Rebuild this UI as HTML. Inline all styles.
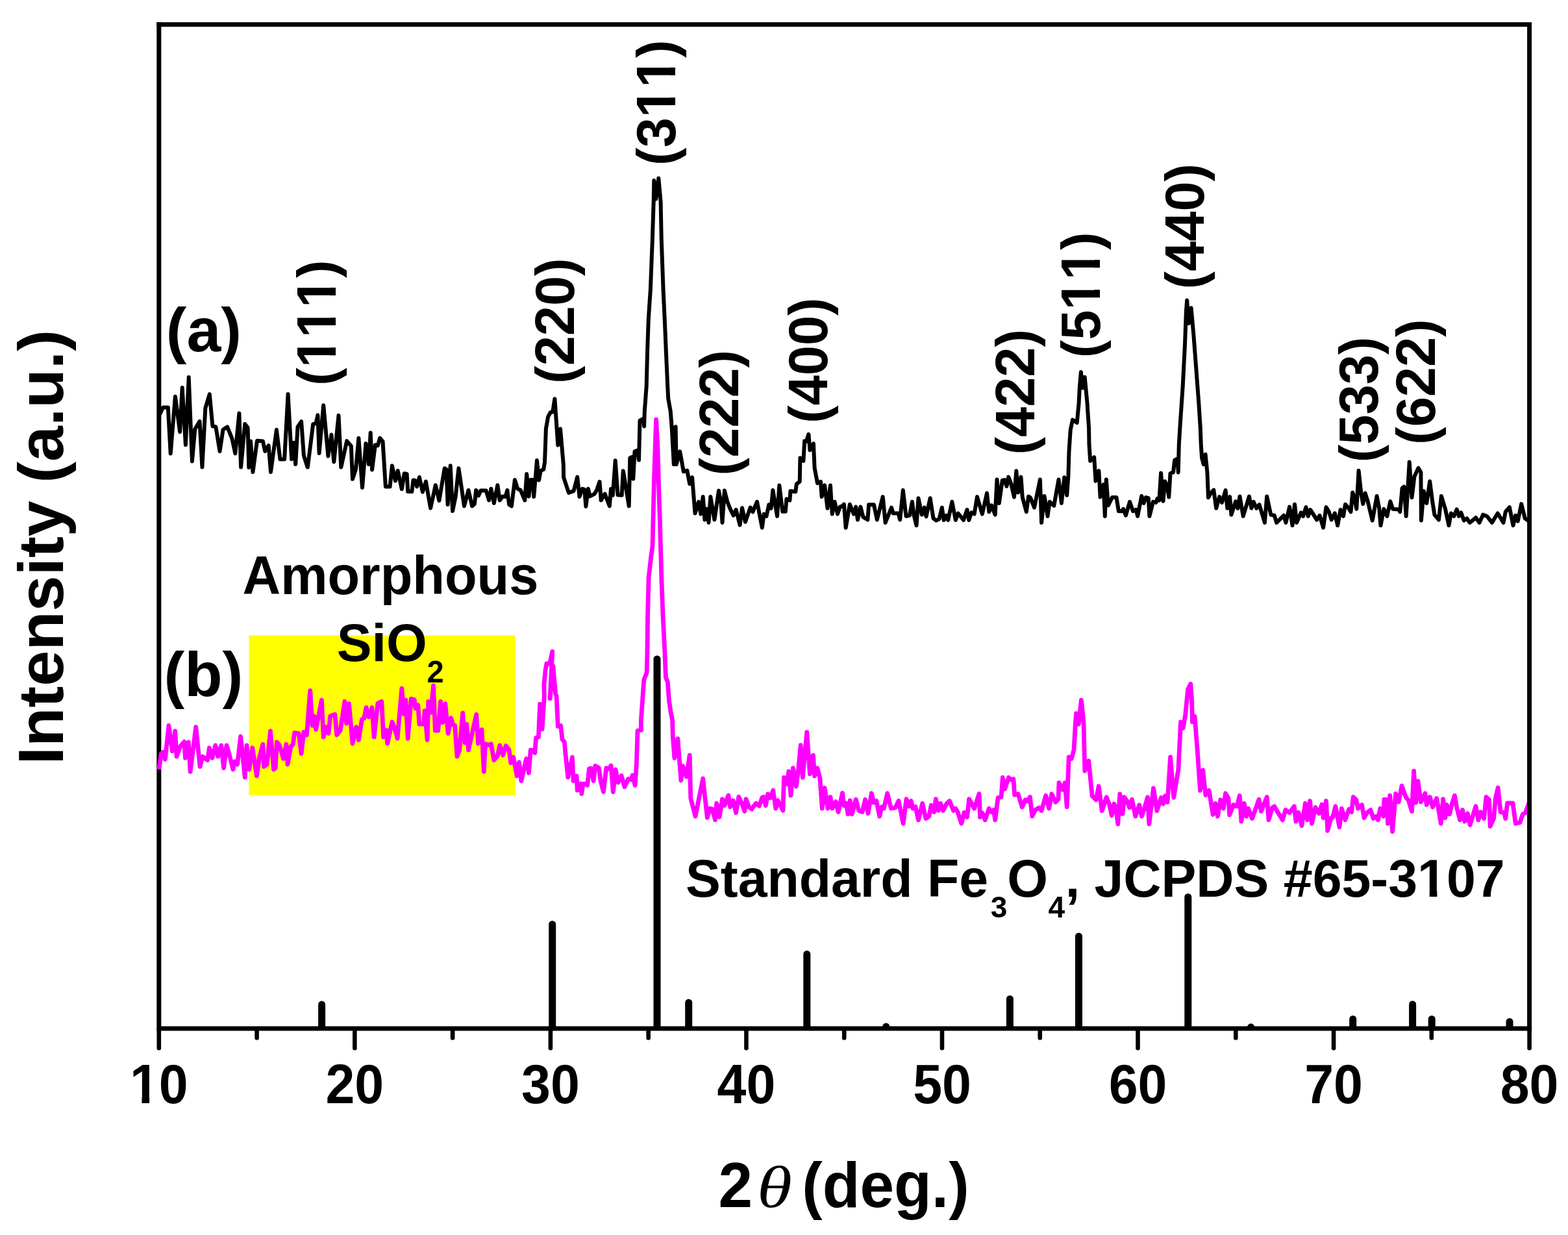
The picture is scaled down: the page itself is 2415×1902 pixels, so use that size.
<!DOCTYPE html>
<html lang="en"><head><meta charset="utf-8"><title>XRD patterns</title>
<style>
html,body{margin:0;padding:0;background:#fff;}
body{width:2415px;height:1902px;overflow:hidden;}
svg{display:block;}
text{font-family:"Liberation Sans", Arial, Helvetica, sans-serif;font-weight:bold;fill:#000;font-kerning:none;font-variant-ligatures:none;}
.th{font-family:"Liberation Serif","DejaVu Serif",serif;font-style:italic;font-weight:normal;}
</style></head><body>
<svg xmlns="http://www.w3.org/2000/svg" width="2415" height="1902" viewBox="0 0 2415 1902">
<rect x="0" y="0" width="2415" height="1902" fill="#fff"/>
<rect x="383.4" y="978.5" width="410.1" height="246.1" fill="#ffff00"/>
<defs><clipPath id="c1"><path clip-rule="evenodd" d="M-900,-400H2400V400H-900Z M-42.87,-9.57H-27.57V2H-42.87Z M-15.38,-9.57H-1.11V2H-15.38Z"/></clipPath><clipPath id="c2"><path clip-rule="evenodd" d="M-900,-400H2400V400H-900Z M4.20,-9.74H19.77V2H4.20Z M32.17,-9.74H46.70V2H32.17Z M52.03,-9.74H67.60V2H52.03Z M80.00,-9.74H94.52V2H80.00Z M99.86,-9.74H115.43V2H99.86Z M127.83,-9.74H142.35V2H127.83Z"/></clipPath><clipPath id="c3"><path clip-rule="evenodd" d="M-900,-400H2400V400H-900Z M52.03,-9.74H67.60V2H52.03Z M80.00,-9.74H94.52V2H80.00Z M99.86,-9.74H115.43V2H99.86Z M127.83,-9.74H142.35V2H127.83Z"/></clipPath><clipPath id="c4"><path clip-rule="evenodd" d="M-900,-400H2400V400H-900Z M52.03,-9.74H67.60V2H52.03Z M80.00,-9.74H94.52V2H80.00Z M99.86,-9.74H115.43V2H99.86Z M127.83,-9.74H142.35V2H127.83Z"/></clipPath><clipPath id="c5"><path clip-rule="evenodd" d="M-900,-400H2400V400H-900Z M1154.22,-9.32H1169.11V2H1154.22Z M1181.01,-9.32H1194.89V2H1181.01Z"/></clipPath></defs>
<g transform="translate(244.8,1699.4) scale(0.955,1)" clip-path="url(#c1)"><text font-size="84.5" text-anchor="middle">10</text></g>
<g transform="translate(546.3,1699.4) scale(0.955,1)"><text font-size="84.5" text-anchor="middle">20</text></g>
<g transform="translate(847.9,1699.4) scale(0.955,1)"><text font-size="84.5" text-anchor="middle">30</text></g>
<g transform="translate(1149.4,1699.4) scale(0.955,1)"><text font-size="84.5" text-anchor="middle">40</text></g>
<g transform="translate(1451.0,1699.4) scale(0.955,1)"><text font-size="84.5" text-anchor="middle">50</text></g>
<g transform="translate(1752.5,1699.4) scale(0.955,1)"><text font-size="84.5" text-anchor="middle">60</text></g>
<g transform="translate(2054.1,1699.4) scale(0.955,1)"><text font-size="84.5" text-anchor="middle">70</text></g>
<g transform="translate(2355.6,1699.4) scale(0.955,1)"><text font-size="84.5" text-anchor="middle">80</text></g>
<g transform="translate(1106.6,1858.8) scale(0.9556,1)"><text font-size="99">2</text></g>
<g transform="translate(1165.9,1858.8) scale(1.2,1)"><text class="th" font-size="91.4">θ</text></g>
<g transform="translate(1235.2,1858.8) scale(0.9556,1)"><text font-size="99">(deg.)</text></g>
<g transform="translate(97.4,1177.5) rotate(-90)"><text font-size="98.8">Intensity (a.u.)</text></g>
<g transform="translate(517.2,594) rotate(-90)"><text font-size="83">(</text><g transform="translate(27.64,0) scale(0.9651,1)" clip-path="url(#c2)"><text font-size="86">111</text></g><text x="166.12" font-size="83">)</text></g>
<g transform="translate(883.5,591) rotate(-90)"><text font-size="83">(</text><g transform="translate(27.64,0) scale(0.9651,1)"><text font-size="86">220</text></g><text x="166.12" font-size="83">)</text></g>
<g transform="translate(1040,255) rotate(-90)"><text font-size="83">(</text><g transform="translate(27.64,0) scale(0.9651,1)" clip-path="url(#c3)"><text font-size="86">311</text></g><text x="166.12" font-size="83">)</text></g>
<g transform="translate(1137.2,732.5) rotate(-90)"><text font-size="83">(</text><g transform="translate(27.64,0) scale(0.9651,1)"><text font-size="86">222</text></g><text x="166.12" font-size="83">)</text></g>
<g transform="translate(1273.9,652) rotate(-90)"><text font-size="83">(</text><g transform="translate(27.64,0) scale(0.9651,1)"><text font-size="86">400</text></g><text x="166.12" font-size="83">)</text></g>
<g transform="translate(1593,700.6) rotate(-90)"><text font-size="83">(</text><g transform="translate(27.64,0) scale(0.9651,1)"><text font-size="86">422</text></g><text x="166.12" font-size="83">)</text></g>
<g transform="translate(1694.1,551.2) rotate(-90)"><text font-size="83">(</text><g transform="translate(27.64,0) scale(0.9651,1)" clip-path="url(#c4)"><text font-size="86">511</text></g><text x="166.12" font-size="83">)</text></g>
<g transform="translate(1853.9,445.5) rotate(-90)"><text font-size="83">(</text><g transform="translate(27.64,0) scale(0.9651,1)"><text font-size="86">440</text></g><text x="166.12" font-size="83">)</text></g>
<g transform="translate(2121.8,712.3) rotate(-90)"><text font-size="83">(</text><g transform="translate(27.64,0) scale(0.9651,1)"><text font-size="86">533</text></g><text x="166.12" font-size="83">)</text></g>
<g transform="translate(2209.8,685) rotate(-90)"><text font-size="83">(</text><g transform="translate(27.64,0) scale(0.9651,1)"><text font-size="86">622</text></g><text x="166.12" font-size="83">)</text></g>
<g transform="translate(255.8,540.9)"><text font-size="95">(a)</text></g>
<g transform="translate(252.4,1071.7)"><text font-size="95.5">(b)</text></g>
<g transform="translate(373.5,915.3) scale(0.985,1)"><text font-size="82.5">Amorphous</text></g>
<g transform="translate(518.7,1017.8) scale(0.98,1)"><text font-size="82.3">SiO<tspan font-size="48" dy="33.4" dx="0">2</tspan></text></g>
<g transform="translate(1056.0,1380.5) scale(0.98,1)" clip-path="url(#c5)"><text font-size="82.3">Standard Fe<tspan font-size="47" dy="32" dx="3.9">3</tspan><tspan dy="-32" dx="-0.1">O</tspan><tspan font-size="47" dy="32" dx="0.4">4</tspan><tspan dy="-32" dx="0.6">, JCPDS #65-3</tspan>107</text></g>
<path d="M490.10,1584.0V1547.1A5.5,5.5 0 0 1 501.10,1547.1V1584.0Z" fill="#000"/>
<path d="M845.20,1584.0V1423.5A5.5,5.5 0 0 1 856.20,1423.5V1584.0Z" fill="#000"/>
<path d="M1006.50,1584.0V1015.0A5.5,5.5 0 0 1 1017.50,1015.0V1584.0Z" fill="#000"/>
<path d="M1055.20,1584.0V1544.1A5.5,5.5 0 0 1 1066.20,1544.1V1584.0Z" fill="#000"/>
<path d="M1237.30,1584.0V1469.5A5.5,5.5 0 0 1 1248.30,1469.5V1584.0Z" fill="#000"/>
<path d="M1359.20,1584.0V1581.0A5.5,5.5 0 0 1 1370.20,1581.0V1584.0Z" fill="#000"/>
<path d="M1549.90,1584.0V1538.5A5.5,5.5 0 0 1 1560.90,1538.5V1584.0Z" fill="#000"/>
<path d="M1656.00,1584.0V1441.9A5.5,5.5 0 0 1 1667.00,1441.9V1584.0Z" fill="#000"/>
<path d="M1824.30,1584.0V1381.5A5.5,5.5 0 0 1 1835.30,1381.5V1584.0Z" fill="#000"/>
<path d="M1921.10,1584.0V1581.8A5.5,5.5 0 0 1 1932.10,1581.8V1584.0Z" fill="#000"/>
<path d="M2078.20,1584.0V1569.5A5.5,5.5 0 0 1 2089.20,1569.5V1584.0Z" fill="#000"/>
<path d="M2170.10,1584.0V1546.7A5.5,5.5 0 0 1 2181.10,1546.7V1584.0Z" fill="#000"/>
<path d="M2199.70,1584.0V1569.5A5.5,5.5 0 0 1 2210.70,1569.5V1584.0Z" fill="#000"/>
<path d="M2319.50,1584.0V1573.5A5.5,5.5 0 0 1 2330.50,1573.5V1584.0Z" fill="#000"/>
<path d="M244.8,34.3V1584.0H2359.1" fill="none" stroke="#000" stroke-width="7.0" stroke-linejoin="miter"/>
<path d="M241.50,1584.0V1614.2A3.3,3.3 0 0 0 248.10,1614.2V1584.0Z" fill="#000"/>
<path d="M392.27,1584.0V1598.4A3.3,3.3 0 0 0 398.87,1598.4V1584.0Z" fill="#000"/>
<path d="M543.04,1584.0V1614.2A3.3,3.3 0 0 0 549.64,1614.2V1584.0Z" fill="#000"/>
<path d="M693.81,1584.0V1598.4A3.3,3.3 0 0 0 700.41,1598.4V1584.0Z" fill="#000"/>
<path d="M844.59,1584.0V1614.2A3.3,3.3 0 0 0 851.19,1614.2V1584.0Z" fill="#000"/>
<path d="M995.36,1584.0V1598.4A3.3,3.3 0 0 0 1001.96,1598.4V1584.0Z" fill="#000"/>
<path d="M1146.13,1584.0V1614.2A3.3,3.3 0 0 0 1152.73,1614.2V1584.0Z" fill="#000"/>
<path d="M1296.90,1584.0V1598.4A3.3,3.3 0 0 0 1303.50,1598.4V1584.0Z" fill="#000"/>
<path d="M1447.67,1584.0V1614.2A3.3,3.3 0 0 0 1454.27,1614.2V1584.0Z" fill="#000"/>
<path d="M1598.44,1584.0V1598.4A3.3,3.3 0 0 0 1605.04,1598.4V1584.0Z" fill="#000"/>
<path d="M1749.21,1584.0V1614.2A3.3,3.3 0 0 0 1755.81,1614.2V1584.0Z" fill="#000"/>
<path d="M1899.99,1584.0V1598.4A3.3,3.3 0 0 0 1906.59,1598.4V1584.0Z" fill="#000"/>
<path d="M2050.76,1584.0V1614.2A3.3,3.3 0 0 0 2057.36,1614.2V1584.0Z" fill="#000"/>
<path d="M2201.53,1584.0V1598.4A3.3,3.3 0 0 0 2208.13,1598.4V1584.0Z" fill="#000"/>
<path d="M2352.30,1584.0V1614.2A3.3,3.3 0 0 0 2358.90,1614.2V1584.0Z" fill="#000"/>
<polyline points="244.8,640.8 251.1,627.5 258.8,627.5 262.7,698.4 269.9,610.7 277.1,665.2 280.7,597.1 285.9,685.1 290.7,581.1 295.9,710.5 300.3,660.7 307.5,648.8 311.4,719.4 316.3,628.6 322.8,607.1 327.4,656.3 332.4,657.4 338.5,695.0 343.5,661.8 350.1,657.4 357.3,675.1 362.3,698.4 368.4,636.6 371.1,719.4 377.2,653.0 381.6,658.5 383.3,719.9 386.1,679.5 389.4,727.1 396.0,678.7 404.9,679.5 408.2,695.0 413.7,686.2 417.0,727.1 425.9,661.8 431.4,707.2 438.1,707.2 443.6,607.1 449.1,707.2 452.4,681.8 455.2,715.0 458.5,657.4 464.1,649.1 467.9,701.7 473.5,719.4 473.9,719.5 482.2,653.1 486.6,652.0 489.4,639.3 491.6,697.9 498.2,624.3 505.4,702.4 510.4,669.5 514.3,711.2 521.5,639.8 525.3,719.5 534.2,679.1 540.8,686.9 543.0,737.8 548.0,722.8 552.4,674.7 558.0,751.0 563.5,683.0 567.9,715.1 570.7,666.4 573.1,723.4 577.9,685.2 581.8,686.3 585.1,674.7 589.5,679.7 593.9,749.4 600.6,749.4 603.9,717.3 608.9,740.5 612.7,725.0 618.8,753.3 622.7,729.2 626.6,730.0 628.2,757.1 634.3,757.1 636.5,739.4 639.3,740.0 642.1,749.4 645.9,735.0 650.9,757.7 655.9,741.6 663.1,782.6 670.8,747.2 676.4,771.0 684.7,721.2 687.4,722.8 689.6,777.0 693.7,717.3 697.1,787.0 701.6,765.0 706.4,721.3 711.0,752.3 714.9,779.4 721.5,755.0 727.1,779.4 730.9,776.1 733.2,755.0 737.0,763.3 740.3,755.6 748.6,755.6 753.1,770.5 756.4,752.8 760.8,775.0 766.3,747.3 769.7,770.5 774.1,764.4 778.5,765.0 781.3,755.0 784.1,777.2 787.9,779.4 792.9,739.0 797.3,752.8 801.8,755.0 808.4,770.5 811.2,730.1 814.5,764.4 817.2,739.0 820.6,739.0 822.2,765.0 827.0,709.1 830.0,739.5 832.7,725.2 837.2,722.9 839.0,711.7 840.1,682.2 840.9,660.1 844.2,641.6 847.9,635.0 851.2,634.6 854.4,614.3 859.3,685.5 863.0,660.4 867.8,715.4 868.1,735.1 875.9,758.9 883.6,756.1 889.2,734.6 892.5,765.0 896.9,752.8 900.2,753.9 902.4,779.9 905.8,752.8 908.5,764.4 915.7,760.6 919.0,755.0 923.5,741.8 925.7,770.5 931.6,760.6 938.8,779.4 941.0,752.9 943.8,762.8 947.7,709.2 951.5,762.3 957.6,762.8 959.8,725.2 968.7,779.4 970.3,705.3 974.2,703.6 975.3,737.4 977.5,695.3 982.0,693.7 984.0,708.6 985.5,647.7 990.8,645.0 992.1,656.6 992.8,633.2 995.7,594.5 997.0,543.0 998.8,491.5 1001.9,445.0 1004.9,367.1 1006.7,310.9 1007.3,278.1 1010.2,306.5 1014.3,274.6 1017.6,310.9 1018.7,367.1 1021.5,445.0 1023.7,491.5 1025.9,543.0 1028.2,594.5 1029.2,613.9 1032.7,633.2 1034.6,657.6 1037.8,715.2 1040.6,657.2 1041.7,715.2 1047.2,695.3 1052.8,726.3 1058.3,724.6 1062.2,745.1 1066.1,735.2 1070.5,790.5 1076.0,772.8 1079.3,791.6 1082.7,765.0 1085.4,800.4 1088.2,783.8 1091.5,804.9 1094.3,765.0 1100.4,800.4 1107.0,755.6 1110.3,772.8 1112.5,804.9 1115.9,755.6 1120.3,772.8 1124.7,783.8 1129.7,793.8 1133.6,785.0 1139.6,808.7 1143.0,782.2 1147.9,803.8 1155.7,781.6 1159.4,788.3 1166.0,772.8 1173.8,812.7 1176.6,791.6 1180.4,795.0 1184.3,777.2 1187.6,782.8 1190.4,755.1 1197.0,795.0 1200.3,747.4 1205.3,787.8 1209.8,787.8 1211.4,768.4 1216.4,770.6 1217.5,756.2 1225.2,757.3 1226.9,745.2 1231.7,741.8 1232.4,705.3 1237.4,709.8 1239.1,679.3 1241.8,679.9 1245.4,668.8 1247.4,693.2 1252.9,683.2 1254.6,720.8 1259.0,744.1 1264.0,741.8 1265.6,765.1 1270.1,747.4 1274.5,782.8 1278.9,747.4 1281.7,791.6 1285.5,772.8 1290.0,791.6 1293.8,780.6 1297.2,779.5 1299.9,776.7 1302.7,812.7 1308.8,776.7 1314.9,791.6 1318.2,780.6 1321.0,800.5 1325.4,780.6 1329.3,796.1 1336.4,800.5 1338.1,777.2 1345.9,777.2 1350.8,800.5 1359.7,765.1 1363.6,804.9 1373.0,781.7 1375.7,790.5 1383.5,790.5 1386.2,800.5 1390.8,755.1 1395.5,795.0 1401.0,793.8 1404.9,772.8 1407.7,793.8 1411.5,809.3 1414.5,767.3 1419.8,792.7 1423.7,781.7 1426.5,795.5 1432.6,767.3 1437.5,798.3 1442.0,801.6 1446.4,799.4 1450.8,781.7 1453.6,801.0 1457.5,793.8 1460.2,801.0 1466.3,772.8 1471.8,801.0 1475.7,790.5 1484.0,801.0 1489.5,785.0 1492.3,801.0 1496.2,789.4 1500.6,791.6 1505.0,765.1 1512.8,791.6 1520.0,759.5 1523.3,788.3 1527.2,778.4 1532.7,792.7 1535.5,738.5 1538.8,775.0 1543.8,739.6 1547.1,739.1 1550.4,749.0 1553.2,734.6 1557.0,744.1 1562.0,765.6 1565.3,725.2 1568.1,758.4 1572.5,734.6 1574.7,765.6 1580.8,788.3 1584.1,764.5 1586.9,766.2 1593.0,781.7 1601.9,738.5 1604.1,804.9 1608.5,764.0 1613.5,795.0 1616.6,772.8 1623.3,778.9 1630.5,738.5 1634.9,775.0 1639.3,735.2 1643.2,762.8 1645.4,732.9 1646.5,695.3 1648.7,662.1 1652.0,646.6 1658.7,651.1 1661.6,620.7 1662.9,594.9 1664.9,573.0 1667.4,597.5 1670.7,580.7 1674.5,620.7 1677.1,659.5 1677.5,684.3 1679.2,709.7 1685.2,704.2 1687.5,740.7 1692.4,725.2 1694.6,765.6 1699.6,746.2 1701.8,794.9 1703.8,738.5 1706.8,778.3 1712.9,766.1 1719.5,766.1 1722.9,787.2 1728.4,787.2 1730.1,783.8 1733.9,793.8 1740.0,772.8 1745.0,787.2 1749.4,785.0 1752.2,794.9 1758.3,763.9 1761.6,775.0 1764.9,766.1 1768.8,767.2 1770.4,794.9 1776.0,772.8 1780.4,773.9 1782.6,767.8 1785.4,770.6 1788.1,728.5 1791.5,771.7 1794.2,741.2 1798.1,750.7 1800.3,765.6 1802.5,729.1 1807.0,727.4 1809.2,708.6 1813.6,706.4 1814.7,727.4 1815.8,684.3 1817.5,656.6 1821.7,594.9 1825.0,530.4 1826.9,478.7 1828.2,462.6 1831.0,498.1 1834.6,474.2 1838.5,517.5 1842.4,569.1 1846.3,620.7 1848.8,659.5 1849.7,683.2 1851.1,705.3 1853.8,715.3 1856.6,699.8 1859.4,727.5 1861.0,766.2 1864.9,759.5 1869.3,754.6 1873.2,782.8 1878.2,765.1 1882.0,773.9 1887.6,755.1 1890.3,782.8 1894.2,765.1 1896.4,792.7 1903.1,772.3 1906.4,782.8 1909.5,764.5 1914.7,795.0 1923.9,764.5 1927.4,782.8 1930.7,772.8 1935.2,782.8 1939.6,777.2 1947.9,804.9 1951.2,764.5 1957.3,792.7 1962.8,793.8 1966.1,804.9 1977.2,793.8 1980.5,804.9 1986.1,780.6 1990.5,809.3 1994.1,776.7 1997.1,804.9 2003.8,789.4 2007.1,795.0 2011.5,781.1 2014.8,795.0 2018.1,785.0 2028.1,800.5 2032.5,793.8 2038.1,812.7 2042.5,781.1 2046.9,788.3 2050.8,800.5 2055.8,790.5 2060.2,809.3 2064.6,785.0 2069.0,795.0 2072.0,776.7 2076.6,781.7 2080.5,788.3 2083.2,758.4 2086.0,766.2 2089.3,783.9 2092.6,724.7 2096.5,760.7 2099.3,776.1 2102.6,759.5 2106.5,771.7 2113.7,801.6 2120.6,764.0 2124.2,782.8 2126.4,809.3 2131.4,783.9 2136.3,795.0 2141.3,772.3 2145.2,783.9 2154.1,784.4 2156.3,788.3 2159.6,751.8 2162.4,749.6 2165.7,795.0 2170.7,711.4 2174.5,766.2 2178.4,734.1 2184.5,720.8 2188.4,727.5 2188.9,801.6 2192.8,756.2 2197.2,775.0 2202.2,741.3 2206.1,771.7 2209.4,792.7 2216.0,800.5 2219.9,764.0 2226.0,783.9 2231.5,809.3 2234.8,790.5 2239.3,795.0 2243.7,784.4 2247.0,795.0 2250.3,789.4 2254.7,801.6 2259.2,798.3 2263.6,804.9 2268.0,801.6 2273.0,797.2 2278.5,804.9 2284.1,792.7 2290.2,795.0 2297.9,804.9 2306.7,790.5 2315.5,804.9 2318.8,788.3 2324.9,781.1 2330.5,809.3 2334.3,793.8 2337.7,802.7 2343.2,776.1 2348.7,798.3 2355.6,803.3" fill="none" stroke="#000" stroke-width="6.0" stroke-linejoin="round" stroke-linecap="butt"/>
<polyline points="244.8,1185.0 248.3,1160.7 251.1,1158.4 254.4,1169.5 259.9,1117.5 265.4,1156.8 269.7,1125.8 272.1,1165.1 277.6,1149.6 283.7,1142.4 285.4,1167.3 290.3,1142.9 293.1,1188.3 301.7,1119.7 308.0,1180.6 311.9,1165.1 319.7,1170.6 322.4,1151.8 326.9,1167.3 331.8,1147.9 335.7,1165.1 340.7,1147.9 344.6,1182.8 349.0,1147.9 352.9,1160.7 358.9,1185.0 361.7,1172.8 365.6,1177.2 370.6,1134.1 377.2,1197.2 380.0,1147.9 383.8,1185.0 388.8,1151.8 395.5,1195.0 399.3,1167.3 404.9,1146.3 406.5,1180.6 411.0,1177.2 416.5,1125.8 421.5,1185.0 424.2,1182.8 426.4,1142.9 430.3,1147.4 436.4,1168.4 440.8,1146.3 443.0,1177.2 448.0,1149.6 451.3,1146.3 453.6,1128.6 460.2,1129.7 464.1,1160.7 467.9,1127.5 472.4,1131.9 477.7,1063.7 481.1,1117.4 483.8,1103.0 486.6,1123.5 495.4,1078.1 498.2,1135.1 502.1,1119.6 506.0,1129.5 508.7,1103.0 515.9,1100.2 518.7,1131.8 524.2,1125.1 530.9,1080.3 533.6,1114.1 537.5,1083.6 543.0,1145.0 548.6,1119.6 552.4,1139.5 557.4,1108.0 560.7,1106.3 564.1,1089.7 567.9,1104.1 572.9,1089.7 576.2,1135.1 581.8,1083.6 587.8,1080.3 590.6,1135.1 595.0,1124.6 596.7,1145.0 603.9,1111.8 607.2,1119.6 612.2,1137.3 618.8,1060.4 622.1,1099.7 624.9,1078.1 628.2,1137.3 633.2,1076.4 638.2,1077.5 639.8,1090.8 643.7,1085.8 645.9,1115.2 652.6,1115.2 654.2,1094.7 658.1,1139.5 659.8,1080.3 663.6,1097.5 667.5,1056.0 670.3,1125.1 674.7,1125.1 678.6,1080.3 681.9,1112.9 685.8,1083.6 690.2,1129.5 694.6,1105.8 697.9,1116.3 700.7,1117.4 704.0,1165.0 707.7,1155.1 712.7,1098.1 716.0,1144.1 718.8,1115.3 721.5,1155.1 727.6,1127.5 733.7,1100.3 736.5,1145.2 742.0,1123.6 745.3,1188.3 747.5,1145.7 753.1,1147.4 756.4,1145.7 760.8,1170.6 766.3,1164.0 769.7,1147.9 774.6,1162.9 779.1,1148.5 784.1,1155.1 786.8,1175.0 790.7,1166.2 796.2,1195.0 799.5,1173.9 802.9,1202.7 807.3,1182.8 810.6,1168.4 814.5,1190.5 817.2,1155.1 820.6,1155.7 823.9,1159.5 825.5,1136.3 829.4,1135.2 831.6,1084.3 835.0,1123.0 838.3,1072.1 837.9,1053.8 840.1,1031.6 841.9,1022.0 846.7,1022.0 850.8,1003.2 847.1,1075.9 851.9,1025.7 855.6,1068.5 857.1,1072.1 859.3,1118.6 863.7,1117.5 865.9,1138.5 869.3,1142.9 871.5,1166.2 874.8,1197.2 881.4,1166.2 883.1,1202.7 888.1,1195.0 889.2,1217.1 890.8,1207.1 894.7,1207.1 895.8,1222.6 898.0,1207.1 901.3,1207.1 904.7,1209.3 907.4,1183.9 910.2,1183.3 914.1,1202.7 916.8,1179.5 922.4,1182.8 925.1,1202.7 929.4,1219.5 933.8,1183.0 937.7,1184.1 941.0,1179.1 944.3,1219.5 948.2,1185.2 952.1,1205.1 957.1,1194.6 962.0,1211.8 967.6,1199.6 972.0,1200.7 974.2,1194.1 978.1,1209.5 980.3,1177.5 982.0,1125.4 987.5,1124.3 987.3,1110.0 989.5,1079.6 991.7,1047.4 996.1,1035.7 996.9,1006.4 997.6,947.8 999.1,889.3 1002.8,857.0 1005.0,840.8 1006.0,798.7 1007.4,742.4 1009.2,686.2 1010.6,646.2 1012.8,686.2 1014.4,742.4 1016.3,798.7 1017.4,840.8 1018.2,865.0 1018.8,889.3 1021.0,947.8 1024.0,1006.4 1025.4,1043.0 1028.3,1050.3 1030.5,1079.6 1032.7,1094.3 1035.7,1110.0 1036.2,1133.2 1038.9,1167.5 1043.9,1137.6 1046.1,1166.4 1048.9,1201.8 1051.7,1179.7 1057.2,1196.3 1062.2,1163.1 1063.8,1229.5 1071.0,1257.1 1082.7,1199.0 1089.3,1259.3 1093.2,1245.0 1097.0,1246.1 1101.5,1262.7 1103.7,1237.2 1108.1,1258.2 1112.5,1230.6 1115.9,1240.5 1121.9,1225.0 1124.7,1242.7 1129.1,1232.8 1133.6,1251.6 1137.8,1227.2 1142.4,1237.2 1146.8,1249.4 1149.0,1230.6 1153.5,1242.7 1157.9,1246.1 1157.9,1245.5 1164.4,1237.2 1169.4,1241.1 1173.8,1228.4 1176.0,1227.3 1179.3,1240.6 1182.6,1222.9 1186.5,1228.9 1190.7,1217.3 1194.8,1245.0 1198.1,1232.8 1205.9,1248.3 1207.5,1197.4 1212.0,1207.4 1214.7,1188.0 1218.0,1225.1 1221.4,1183.0 1226.3,1211.2 1229.7,1184.1 1233.2,1147.6 1236.3,1197.4 1242.7,1127.7 1247.4,1191.9 1252.4,1163.1 1254.6,1195.2 1259.0,1183.0 1262.9,1198.5 1266.2,1245.0 1270.1,1213.5 1275.0,1245.0 1278.9,1227.3 1281.7,1245.0 1287.2,1234.5 1291.1,1250.5 1297.5,1221.2 1299.9,1240.6 1303.3,1237.2 1306.0,1253.8 1309.3,1232.8 1312.1,1253.8 1318.2,1231.2 1322.6,1248.3 1328.1,1250.5 1332.6,1231.2 1337.0,1252.7 1342.3,1221.8 1345.9,1236.1 1349.7,1233.4 1354.7,1257.2 1358.0,1242.8 1361.3,1245.0 1366.7,1221.8 1372.4,1245.0 1379.0,1243.9 1384.0,1233.4 1391.1,1268.3 1396.0,1230.7 1399.9,1241.8 1403.2,1233.5 1406.0,1245.1 1409.9,1242.3 1414.5,1262.8 1420.7,1237.3 1425.9,1260.6 1430.9,1257.2 1434.2,1240.1 1438.6,1250.6 1441.4,1230.7 1445.3,1248.4 1448.6,1237.3 1452.5,1248.4 1457.5,1238.4 1462.4,1233.5 1468.5,1248.4 1471.8,1245.1 1475.2,1251.2 1480.7,1268.3 1485.1,1251.2 1489.5,1258.4 1492.6,1230.7 1500.6,1245.1 1508.1,1222.4 1509.5,1258.4 1512.8,1251.7 1517.2,1262.8 1523.3,1245.1 1527.2,1250.6 1530.5,1247.3 1532.7,1262.8 1537.1,1228.5 1542.1,1227.4 1544.3,1197.5 1547.6,1215.2 1553.5,1197.5 1557.0,1200.8 1560.9,1199.7 1562.6,1224.1 1568.1,1222.9 1574.2,1242.9 1579.2,1231.8 1582.5,1234.0 1586.4,1227.4 1589.7,1257.2 1594.7,1247.3 1600.2,1244.0 1604.1,1248.4 1610.7,1225.2 1615.7,1245.1 1619.8,1222.8 1625.8,1235.5 1630.0,1230.7 1631.0,1205.4 1636.6,1216.2 1640.2,1205.4 1643.2,1242.7 1646.2,1165.8 1650.4,1168.2 1654.0,1155.0 1656.4,1113.0 1657.6,1098.6 1661.2,1115.4 1665.4,1078.2 1669.0,1113.0 1670.8,1187.4 1676.8,1171.8 1679.2,1197.0 1682.2,1225.8 1688.2,1231.9 1692.2,1210.8 1697.2,1248.7 1704.2,1227.7 1708.6,1239.1 1712.2,1255.9 1715.8,1237.9 1718.8,1245.1 1721.8,1269.1 1724.8,1222.8 1729.0,1253.5 1731.4,1227.7 1735.6,1233.1 1739.8,1243.9 1743.4,1231.3 1748.8,1257.1 1754.8,1239.7 1758.4,1257.1 1763.3,1242.7 1767.5,1227.7 1769.9,1269.1 1776.5,1213.8 1781.9,1248.7 1788.5,1228.3 1791.5,1237.9 1794.5,1225.8 1798.1,1235.5 1802.6,1165.8 1807.7,1228.3 1814.9,1185.0 1817.3,1137.0 1818.5,1111.8 1822.1,1121.4 1825.7,1101.0 1827.9,1079.0 1829.7,1061.3 1833.8,1053.2 1835.6,1079.0 1836.5,1111.8 1840.1,1103.4 1843.7,1149.0 1848.5,1217.4 1852.7,1186.2 1856.9,1224.6 1862.1,1217.4 1868.2,1254.5 1872.1,1237.3 1875.4,1257.2 1879.8,1231.8 1884.3,1245.1 1887.6,1221.8 1892.0,1229.6 1893.7,1255.0 1899.8,1239.5 1905.3,1241.8 1909.2,1225.2 1911.9,1265.0 1916.3,1237.3 1919.7,1257.2 1922.4,1245.1 1928.5,1260.6 1939.0,1231.2 1942.4,1249.5 1951.2,1227.4 1954.0,1262.8 1959.5,1244.0 1962.8,1241.8 1968.4,1251.7 1975.5,1262.8 1980.0,1247.3 1986.1,1251.7 1993.3,1241.8 1996.0,1265.0 1999.9,1251.2 2004.9,1271.6 2010.4,1237.3 2013.7,1262.8 2017.6,1233.5 2020.4,1268.3 2025.9,1243.4 2031.4,1252.8 2035.9,1239.0 2038.1,1259.5 2042.5,1233.5 2044.7,1279.4 2050.2,1259.5 2052.4,1259.5 2056.9,1241.8 2063.0,1273.8 2066.3,1245.1 2071.8,1262.8 2077.7,1246.2 2081.6,1250.6 2084.3,1227.4 2088.8,1231.8 2091.5,1245.1 2097.6,1239.5 2100.9,1259.5 2105.4,1251.7 2110.9,1247.3 2115.3,1260.6 2119.8,1257.2 2122.5,1262.8 2125.8,1245.1 2130.8,1257.2 2131.9,1231.2 2136.3,1231.8 2137.5,1268.3 2140.8,1225.2 2144.6,1280.5 2149.6,1222.4 2154.1,1235.1 2159.0,1210.2 2165.1,1227.4 2169.5,1232.9 2174.5,1249.5 2177.6,1187.5 2180.6,1236.2 2183.9,1203.0 2188.4,1235.1 2195.0,1221.8 2197.2,1239.5 2202.2,1227.4 2206.6,1242.9 2212.7,1229.6 2219.3,1268.3 2222.7,1230.7 2226.0,1259.5 2228.2,1239.5 2232.6,1253.9 2235.9,1239.5 2240.4,1225.2 2243.7,1244.0 2248.7,1262.8 2252.5,1247.3 2255.9,1265.0 2260.3,1252.8 2264.1,1270.5 2273.0,1241.8 2276.9,1262.8 2280.2,1250.6 2285.7,1260.6 2289.0,1227.4 2293.5,1231.8 2295.1,1272.7 2300.6,1260.6 2303.4,1229.6 2307.2,1213.0 2311.1,1250.6 2316.6,1251.7 2318.8,1260.6 2321.6,1236.8 2329.9,1236.8 2334.3,1268.3 2341.0,1266.7 2345.4,1253.9 2349.3,1251.7 2355.6,1235.1" fill="none" stroke="#ff00ff" stroke-width="6.8" stroke-linejoin="round" stroke-linecap="butt"/>
<path d="M241.3,37.8H2355.6V1587.5" fill="none" stroke="#000" stroke-width="7.0" stroke-linejoin="miter"/>
</svg>
</body></html>
